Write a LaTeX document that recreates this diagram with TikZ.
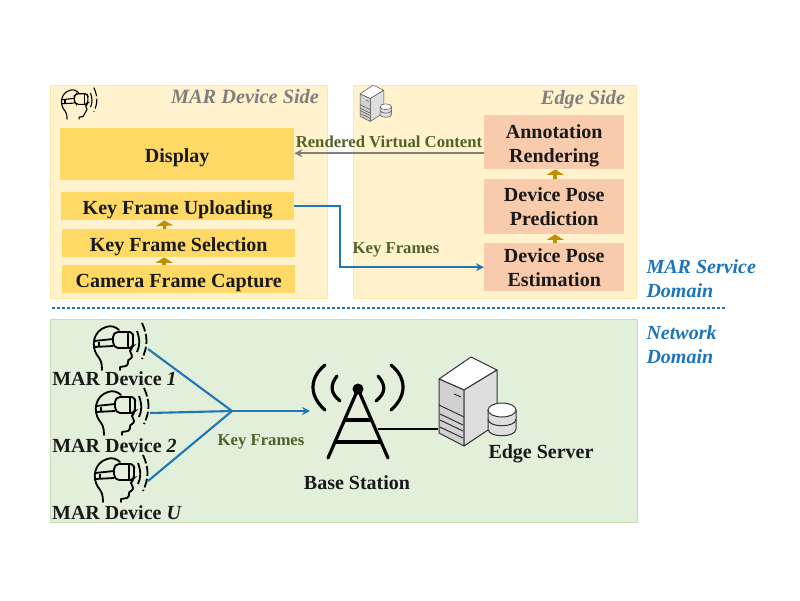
\documentclass[tikz,border=0pt]{standalone}
\usepackage{fontspec}
\setmainfont{Liberation Serif}
\usetikzlibrary{arrows.meta, calc, positioning}
\definecolor{devpanel}{HTML}{FFF2CC}
\definecolor{devline}{HTML}{FFE8A6}
\definecolor{devbox}{HTML}{FFD966}
\definecolor{edgebox}{HTML}{F8CBAD}
\definecolor{netpanel}{HTML}{E2EFDA}
\definecolor{netline}{HTML}{C5E0B4}
\definecolor{linkblue}{HTML}{1F77B4}
\definecolor{domainblue}{HTML}{1B75BC}
\definecolor{labelgreen}{HTML}{4F6228}
\definecolor{stepgold}{HTML}{BF9000}
\definecolor{titlegray}{HTML}{7F7F7F}
\newcommand{\dropline}[1]{\raisebox{-4pt}[\height][\depth]{#1}}
\tikzset{
    panel/.style={draw=#1, line width=0.8pt, anchor=north west, inner sep=0pt},
    stepbox/.style={fill=#1, anchor=north west, inner sep=0pt, align=center, font=\fontsize{20}{24}\selectfont\bfseries, text=black!90},
    linklabel/.style={font=\fontsize{16.7}{18}\selectfont\bfseries, text=labelgreen},
    sidetitle/.style={font=\fontsize{20.3}{22}\selectfont\bfseries\itshape, text=titlegray},
    domaintitle/.style={font=\fontsize{20}{24}\selectfont\bfseries\itshape, text=domainblue, align=left, anchor=west},
    netlabel/.style={font=\fontsize{20}{22}\selectfont\bfseries, text=black!90},
    stepflow/.style={-{Triangle[width=17pt,length=5.5pt]}, line width=3.6pt, stepgold},
    keyflow/.style={-{Stealth[length=8pt,width=8pt]}, line width=2.1pt, linkblue},
    pics/headset/.style={code={
        % kopf
        \draw[line cap=round, line join=round] (9,48) .. controls (9,41) and (8,38) .. (4,33)
            .. controls (-2,24) and (0,9) .. (13,5) .. controls (18,3) and (23,5) .. (26,8);
        \draw[line cap=round, line join=round] (39,26) -- (37,29) .. controls (38,32) and (41,35) .. (37,37)
            .. controls (33,38) and (37,42) .. (33,44) -- (27,45) -- (27,48);
        % brille
        \draw[rounded corners=2pt] (20,13) -- (23,10) -- (39,10) -- (40,13) -- (40,24) -- (38,26) -- (23,26) -- (20,22) -- cycle;
        \draw (1,19) -- (20,17);
        \draw (1,25) -- (20,24);
        \draw (6,20) -- (6,24);
        \draw (35,10) -- (35,26);
        % signal
        \draw (44,9) .. controls (47,17) and (47,24) .. (44,30);
        \draw[dash pattern=on 9pt off 2.5pt on 10pt off 3pt] (49,1) .. controls (55,14) and (55,24) .. (49,37);
    }},
    pics/serverbox/.style={code={
        \draw[fill=white, line join=round] (0,22) -- (32,0) -- (58,13) -- (25,33) -- cycle;
        \draw[fill=black!18, line join=round] (0,22) -- (25,33) -- (25,89) -- (0,76) -- cycle;
        \draw[fill=black!13, line join=round] (25,33) -- (58,13) -- (58,67) -- (25,89) -- cycle;
        \draw (0,48) -- (25,60);
        \draw (15,37) -- (22,40);
        \draw (1,57) -- (24,68);
        \draw (1,63) -- (24,74);
        \draw (1,70) -- (24,81);
        % db
        \draw[fill=black!13] (49,53) -- (49,72) .. controls (49,81) and (77,81) .. (77,72) -- (77,53) -- cycle;
        \draw (49,62) .. controls (49,71) and (77,71) .. (77,62);
        \draw[fill=white] (63,53) ellipse (14 and 7);
    }},
}
\begin{document}
\begin{tikzpicture}[x=1pt, y=-1pt]
    \useasboundingbox (0,0) rectangle (800,600);

    % panels
    \node[panel=devline, fill=devpanel, minimum width=277pt, minimum height=213pt] (devside) at (49.5,85) {};
    \node[panel=devline, fill=devpanel, minimum width=283pt, minimum height=213pt] (edgeside) at (352.5,85) {};
    \node[panel=netline, fill=netpanel, minimum width=587pt, minimum height=203pt] (netside) at (49.5,319) {};

    % device side
    \node[stepbox=devbox, minimum width=234pt, minimum height=52pt] (display) at (60,128) {\dropline{Display}};
    \node[stepbox=devbox, minimum width=233pt, minimum height=28pt] (upload) at (61,192) {\dropline{Key Frame Uploading}};
    \node[stepbox=devbox, minimum width=233pt, minimum height=28pt] (select) at (62,229) {\dropline{Key Frame Selection}};
    \node[stepbox=devbox, minimum width=233pt, minimum height=28pt] (capture) at (62,265) {\dropline{Camera Frame Capture}};
    \draw[stepflow] ([xshift=-14.5pt]capture.north) -- ([xshift=-14.5pt]select.south);
    \draw[stepflow] ([xshift=-14pt]select.north) -- ([xshift=-13.5pt]upload.south);
    \node[sidetitle] (devtitle) at (245,97) {MAR Device Side};
    \pic[scale=0.67, line width=1.1pt] at (61,87) {headset};

    % edge side
    \node[stepbox=edgebox, minimum width=140pt, minimum height=54pt] (render) at (484,115) {\dropline{Annotation}\\\dropline{Rendering}};
    \node[stepbox=edgebox, minimum width=140pt, minimum height=55pt] (predict) at (484,179) {Device Pose\\Prediction};
    \node[stepbox=edgebox, minimum width=140pt, minimum height=48pt] (estimate) at (484,243) {Device Pose\\Estimation};
    \draw[stepflow] ([xshift=1pt]estimate.north) -- ([xshift=1pt]predict.south);
    \draw[stepflow] ([xshift=1pt]predict.north) -- ([xshift=1pt]render.south);
    \node[sidetitle] (edgetitle) at (583,100) {Edge Side};
    \pic[scale=0.41, line width=0.5pt, draw=black!70] at (360,85) {serverbox};

    % links between sides
    \draw[-{Stealth[length=8pt,width=8pt]}, line width=2.1pt, titlegray] ([yshift=-11pt]render.west) -- ([yshift=-11pt]render.west -| display.east);
    \node[linklabel] (renderedlabel) at (389,142) {Rendered Virtual Content};
    \coordinate (turn) at (340,240);
    \draw[keyflow] (upload.east) -- (upload.east -| turn) -- (estimate.west -| turn) -- (estimate.west);
    \node[linklabel] (keylabel) at (396,250) {Key Frames};

    % domains
    \coordinate (divstart) at (52,307.5);
    \coordinate (divend) at (727,307.5);
    \draw[domainblue, line width=2pt, dash pattern=on 2.5pt off 2.5pt] (divstart) -- (divend);
    \node[domaintitle] (servicedomain) at (643,279) {MAR Service\\Domain};
    \node[domaintitle] (networkdomain) at (643,345) {Network\\Domain};

    % network side
    \pic[line width=1.8pt] at (93,322) {headset};
    \pic[line width=1.8pt] at (95,387) {headset};
    \pic[line width=1.8pt] at (94,454) {headset};
    \node[netlabel] (dev1) at (114.5,379) {MAR Device \textit{1}};
    \node[netlabel] (dev2) at (114.5,446) {MAR Device \textit{2}};
    \node[netlabel] (dev3) at (117,513) {MAR Device \textit{U}};

    \coordinate (dev1out) at (148,349);
    \coordinate (dev2out) at (150,413);
    \coordinate (dev3out) at (148,481);
    \coordinate (hub) at (232,411);
    \coordinate (bsin) at (310,411);
    \draw[linkblue, line width=2.1pt] (dev1out) -- (hub);
    \draw[linkblue, line width=2.1pt] (dev2out) -- (hub);
    \draw[linkblue, line width=2.1pt] (dev3out) -- (hub);
    \draw[keyflow] (hub) -- (bsin);
    \node[linklabel] (netkeylabel) at (261,442) {Key Frames};

    % base station
    \coordinate (mast) at (358,389);
    \coordinate (bsout) at (378,429);
    \coordinate (serverin) at (438,429);
    \fill (mast) circle (5.5);
    \draw[line width=3.2pt, line cap=round] (328,458) -- (mast) -- (388,458);
    \draw[line width=3.2pt] (344,420) -- (372,420);
    \draw[line width=3.2pt] (336,442) -- (380,442);
    \draw[line width=3.2pt, line cap=round] (325,365) .. controls (309,378) and (309,396) .. (325,410);
    \draw[line width=3.2pt, line cap=round] (391,365) .. controls (407,378) and (407,396) .. (391,410);
    \draw[line width=3.2pt, line cap=round] (337,376) .. controls (330,385) and (330,393) .. (340,401);
    \draw[line width=3.2pt, line cap=round] (378,376) .. controls (386,385) and (386,393) .. (376,401);
    \draw[line width=1.8pt] (bsout) -- (serverin);
    \node[netlabel] (bslabel) at (357,483) {Base Station};

    % server
    \pic[line width=1pt, draw=black!80] at (439,357) {serverbox};
    \node[netlabel] (serverlabel) at (541,454) {Edge Server};
\end{tikzpicture}
\end{document}
